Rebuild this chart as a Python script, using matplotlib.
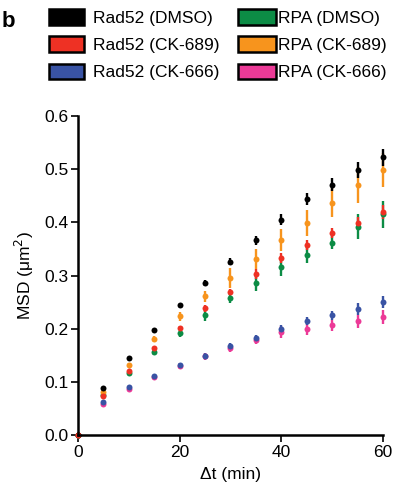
import matplotlib.pyplot as plt
from matplotlib.patches import Patch

plt.rcParams['font.family'] = ['Liberation Sans', 'DejaVu Sans']

t = [0, 5, 10, 15, 20, 25, 30, 35, 40, 45, 50, 55, 60]

rad52_dmso = [0, 0.089, 0.145, 0.197, 0.244, 0.286, 0.326, 0.366, 0.405, 0.444, 0.471, 0.498, 0.522]
rad52_dmso_err = [0, 0.001, 0.002, 0.002, 0.002, 0.005, 0.006, 0.008, 0.010, 0.011, 0.013, 0.015, 0.016]

rad52_689 = [0, 0.074, 0.121, 0.164, 0.202, 0.238, 0.269, 0.303, 0.333, 0.357, 0.380, 0.398, 0.420]
rad52_689_err = [0, 0.002, 0.002, 0.002, 0.003, 0.006, 0.006, 0.009, 0.009, 0.009, 0.010, 0.012, 0.013]

rad52_666 = [0, 0.062, 0.091, 0.111, 0.131, 0.149, 0.167, 0.183, 0.199, 0.214, 0.225, 0.237, 0.250]
rad52_666_err = [0, 0.002, 0.002, 0.002, 0.004, 0.006, 0.006, 0.006, 0.007, 0.008, 0.009, 0.012, 0.012]

rpa_dmso = [0, 0.076, 0.116, 0.156, 0.192, 0.225, 0.257, 0.286, 0.316, 0.339, 0.362, 0.392, 0.415]
rpa_dmso_err = [0, 0.002, 0.003, 0.006, 0.007, 0.010, 0.009, 0.015, 0.016, 0.016, 0.013, 0.023, 0.026]

rpa_689 = [0, 0.080, 0.132, 0.181, 0.223, 0.261, 0.296, 0.331, 0.367, 0.399, 0.437, 0.470, 0.498]
rpa_689_err = [0, 0.002, 0.003, 0.006, 0.009, 0.010, 0.019, 0.018, 0.020, 0.025, 0.027, 0.034, 0.032]

rpa_666 = [0, 0.058, 0.087, 0.110, 0.130, 0.148, 0.164, 0.179, 0.194, 0.199, 0.206, 0.214, 0.222]
rpa_666_err = [0, 0.002, 0.002, 0.003, 0.005, 0.006, 0.007, 0.008, 0.011, 0.010, 0.011, 0.012, 0.013]

black = '#000000'
red = '#ee3124'
blue = '#3953a4'
green = '#0c8c45'
orange = '#f7941d'
pink = '#ec3a97'

fs = 12.5

fig = plt.figure(figsize=(3.95, 4.88), dpi=100)
ax = fig.add_axes([0.1975, 0.1086, 0.772, 0.6537])

series = [
    (rpa_666, rpa_666_err, pink),
    (rad52_666, rad52_666_err, blue),
    (rpa_dmso, rpa_dmso_err, green),
    (rpa_689, rpa_689_err, orange),
    (rad52_dmso, rad52_dmso_err, black),
    (rad52_689, rad52_689_err, red),
]
for vals, errs, col in series:
    ax.errorbar(t, vals, yerr=errs, fmt='o', color=col, ms=4.3, mew=0,
                elinewidth=1.7, capsize=3, capthick=1.7, clip_on=False)

ax.set_xlim(0, 60)
ax.set_ylim(0, 0.6)
ax.set_xticks([0, 20, 40, 60])
ax.set_yticks([0, 0.1, 0.2, 0.3, 0.4, 0.5, 0.6])
ax.set_yticklabels(['0.0', '0.1', '0.2', '0.3', '0.4', '0.5', '0.6'])
ax.spines['top'].set_visible(False)
ax.spines['right'].set_visible(False)
for s in ['left', 'bottom']:
    ax.spines[s].set_linewidth(1.8)
ax.tick_params(width=1.2, length=5, labelsize=fs, pad=2)
ax.set_xlabel('Δt (min)', fontsize=fs, labelpad=5)
ax.set_ylabel('MSD (μm$^2$)', fontsize=fs, labelpad=6)

fig.text(0.005, 0.978, 'b', fontsize=16, fontweight='bold', va='top')

col1 = [Patch(facecolor=c, edgecolor='black', lw=1.8) for c in [black, red, blue]]
col2 = [Patch(facecolor=c, edgecolor='black', lw=1.8) for c in [green, orange, pink]]
leg1 = fig.legend(col1, ['Rad52 (DMSO)', 'Rad52 (CK-689)', 'Rad52 (CK-666)'],
                  loc='upper left', bbox_to_anchor=(0.115, 0.988), frameon=False,
                  fontsize=fs, handlelength=2.0, handleheight=1.0,
                  handletextpad=0.55, labelspacing=0.6, borderaxespad=0,
                  borderpad=0.2)
leg2 = fig.legend(col2, ['RPA (DMSO)', 'RPA (CK-689)', 'RPA (CK-666)'],
                  loc='upper left', bbox_to_anchor=(0.593, 0.988), frameon=False,
                  fontsize=fs, handlelength=2.2, handleheight=1.0,
                  handletextpad=0.1, labelspacing=0.6, borderaxespad=0,
                  borderpad=0.2)

fig.savefig('out.png', dpi=100)
